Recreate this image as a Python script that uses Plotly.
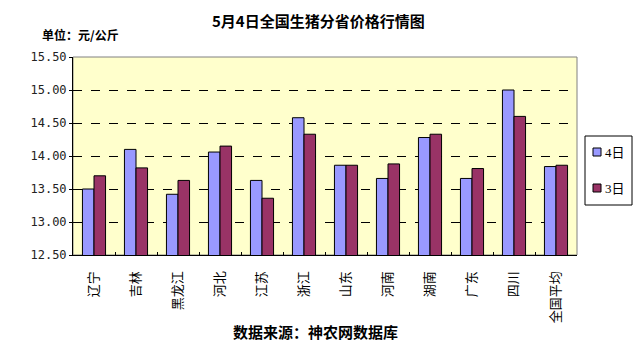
import plotly.graph_objects as go

categories = ["辽宁", "吉林", "黑龙江", "河北", "江苏", "浙江", "山东", "河南", "湖南", "广东", "四川", "全国平均"]
price_4 = [13.50, 14.10, 13.42, 14.06, 13.63, 14.58, 13.86, 13.66, 14.28, 13.66, 15.00, 13.84]
price_3 = [13.70, 13.82, 13.63, 14.15, 13.36, 14.33, 13.86, 13.88, 14.33, 13.81, 14.60, 13.86]
series_names = ["4日", "3日"]
series_colors = ["#9999FF", "#993366"]
y_ticks = [12.5, 13.0, 13.5, 14.0, 14.5, 15.0, 15.5]

cjk = "Noto Sans CJK SC"

W, H = 636, 356
L, R, T, B = 73, 59, 57, 101
pw, ph = W - L - R, H - T - B
def px(x): return (x - L) / pw
def py(y): return (H - B - y) / ph

fig = go.Figure()
for name, vals, col in zip(series_names, [price_4, price_3], series_colors):
    fig.add_trace(go.Bar(x=categories, y=vals, name=name, showlegend=False,
                         marker=dict(color=col, line=dict(color="#000000", width=1))))

shapes = [
    dict(type="rect", xref="paper", yref="paper", x0=0, y0=0, x1=1, y1=1,
         line=dict(color="#808080", width=1), layer="below"),
    dict(type="rect", xref="paper", yref="paper", x0=px(585), x1=px(632), y0=py(205), y1=py(136),
         line=dict(color="#000000", width=1), fillcolor="white"),
]
annotations = [
    dict(text="<b>5月4日全国生猪分省价格行情图</b>", x=px(318), y=py(20), font=dict(size=15, family=cjk),
         xanchor="center"),
    dict(text="<b>单位：元/公斤</b>", x=px(40), y=py(35), font=dict(size=12, family=cjk), xanchor="left"),
    dict(text="<b>数据来源：神农网数据库</b>", x=px(315), y=py(331), font=dict(size=15, family=cjk),
         xanchor="center"),
]
for i, (name, col) in enumerate(zip(series_names, series_colors)):
    yc = 152 + i * 36
    shapes.append(dict(type="rect", xref="paper", yref="paper",
                       x0=px(593), x1=px(601), y0=py(yc + 4), y1=py(yc - 4),
                       line=dict(color="#000000", width=1), fillcolor=col))
    annotations.append(dict(text=name, x=px(603), y=py(yc), xanchor="left",
                            font=dict(size=13, family="Liberation Serif, " + cjk)))
for a in annotations:
    a.update(xref="paper", yref="paper", showarrow=False, yanchor="middle")

fig.update_layout(
    width=W, height=H,
    margin=dict(l=L, r=R, t=T, b=B, autoexpand=False),
    paper_bgcolor="white",
    plot_bgcolor="#FFFFCC",
    barmode="group",
    bargap=0.45,
    bargroupgap=0,
    font=dict(family=cjk, color="#000000"),
    showlegend=False,
    shapes=shapes,
    annotations=annotations,
)

fig.update_xaxes(
    automargin=False,
    tickfont=dict(size=13, family=cjk), tickangle=-90,
    showline=True, linecolor="#000000", linewidth=1,
    tickson="boundaries", ticks="inside", ticklen=3, tickcolor="#000000",
    showgrid=False, ticklabelstandoff=10,
)
fig.update_yaxes(
    automargin=False,
    range=[12.5, 15.5], tickvals=y_ticks, tickformat=".2f",
    tickfont=dict(size=12, family="DejaVu Sans Mono", color="#222222"),
    showline=True, linecolor="#000000", linewidth=1,
    showgrid=True, gridcolor="#000000", griddash="dash", gridwidth=1,
    zeroline=False, ticks="outside", ticklen=3, tickcolor="#000000",
)

fig.write_html("out.html", config={"displayModeBar": False},
               post_script="document.body.style.margin='0';document.body.style.padding='0';")
